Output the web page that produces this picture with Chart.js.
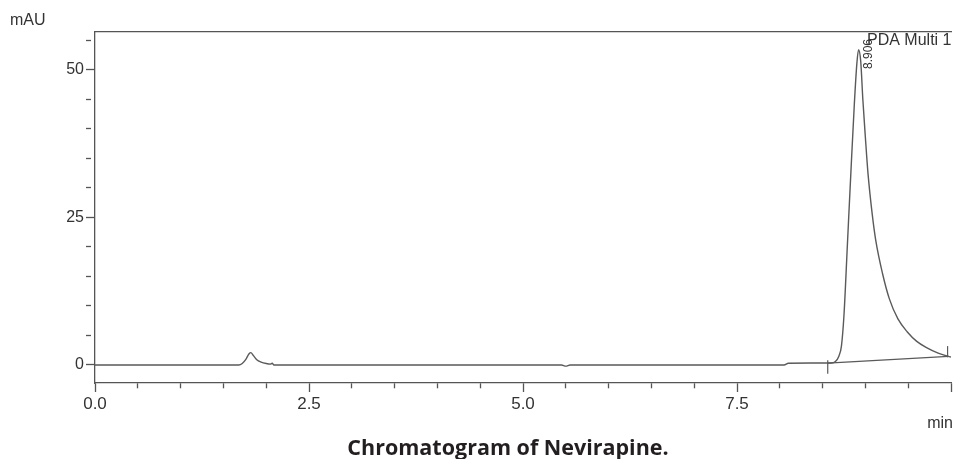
<!DOCTYPE html>
<html>
<head>
<meta charset="utf-8">
<script src="https://cdn.jsdelivr.net/npm/chart.js@4.4.1/dist/chart.umd.min.js"></script>
<style>
  html, body { margin: 0; padding: 0; background: #fff; }
  #wrap { position: relative; width: 953px; height: 459px; overflow: hidden; }
  #chart { position: absolute; left: 0; top: 0; }
  #caption {
    position: absolute; top: 436px; left: 508px; transform: translateX(-50%);
    white-space: nowrap; font: 700 21.5px "Open Sans", sans-serif; color: #231f20; line-height: 1;
  }
</style>
</head>
<body>
<div id="wrap">
  <canvas id="chart" width="953" height="459"></canvas>
  <div id="caption">Chromatogram of Nevirapine.</div>
</div>
<script>
// signal (min, mAU)
var times = [0.00, 1.68, 1.72, 1.76, 1.80, 1.82, 1.85, 1.89, 1.94, 2.00, 2.05, 2.07, 2.09,
  5.45, 5.50, 5.55, 8.05, 8.10, 8.60, 8.65, 8.69, 8.72, 8.75, 8.79, 8.83, 8.87, 8.90, 8.92,
  8.945, 8.97, 9.00, 9.03, 9.08, 9.12, 9.20, 9.28, 9.38, 9.49, 9.60, 9.72, 9.85, 9.97, 10.0];
var absorbance = [0, 0, 0.25, 0.9, 1.9, 2.1, 1.6, 0.9, 0.5, 0.25, 0.15, 0.3, 0,
  0, -0.2, 0, 0, 0.3, 0.35, 0.6, 1.5, 3.2, 8.5, 20.5, 32.5, 44, 51, 53.4,
  51.5, 45, 38.5, 32.5, 25.5, 21.2, 15.5, 11.2, 7.8, 5.6, 4.0, 2.9, 2.0, 1.45, 1.35];

// integration baseline and its start / end marks
var baselineTimes = [8.56, 9.97];
var baselineValues = [0.3, 1.45];
var startMarkTimes = [8.56, 8.56];
var startMarkValues = [0.8, -1.5];
var endMarkTimes = [9.96, 9.96];
var endMarkValues = [1.3, 3.2];

var xMajorLabels = ['0.0', '2.5', '5.0', '7.5'];
var yMajorLabels = ['0', '25', '50'];
var peakLabel = '8.906';
var peakTime = 8.92;
var detectorName = 'PDA Multi 1';

function pts(xs, ys) {
  return xs.map(function(x, i) { return {x: x, y: ys[i]}; });
}
function majorIndex(v, step) {
  var k = v / step;
  return Math.abs(k - Math.round(k)) < 1e-6 ? Math.round(k) : -1;
}

var axisColor = '#555';
var textColor = '#333';
var fontFamily = '"Liberation Sans", Arial, sans-serif';

var annotations = {
  id: 'annotations',
  afterDraw: function(chart) {
    var ctx = chart.ctx;
    var xs = chart.scales.x;
    var top = chart.chartArea.top;
    ctx.save();
    ctx.fillStyle = textColor;
    ctx.font = '16px ' + fontFamily;
    ctx.textBaseline = 'middle';
    ctx.textAlign = 'left';
    ctx.fillText('mAU', 10, 21);
    ctx.fillText(detectorName, 867, 41);
    ctx.textAlign = 'right';
    ctx.fillText('min', 953, 424);
    // retention time, rotated
    ctx.translate(xs.getPixelForValue(peakTime) + 10, top + 37);
    ctx.rotate(-Math.PI / 2);
    ctx.font = '12px ' + fontFamily;
    ctx.textAlign = 'left';
    ctx.fillText(peakLabel, 0, 0);
    ctx.restore();
  }
};

var lineStyle = {showLine: true, pointRadius: 0, borderColor: '#5a5a5a', borderWidth: 1.4, fill: false};

new Chart(document.getElementById('chart').getContext('2d'), {
  type: 'scatter',
  data: {
    datasets: [
      Object.assign({data: pts(times, absorbance), cubicInterpolationMode: 'monotone'}, lineStyle),
      Object.assign({data: pts(baselineTimes, baselineValues)}, lineStyle, {borderWidth: 1.2}),
      Object.assign({data: pts(startMarkTimes, startMarkValues)}, lineStyle, {borderWidth: 1.2}),
      Object.assign({data: pts(endMarkTimes, endMarkValues)}, lineStyle, {borderWidth: 1.2})
    ]
  },
  options: {
    responsive: false,
    animation: false,
    layout: {padding: {top: 32, left: 0, right: 0, bottom: 0}},
    plugins: {legend: {display: false}, tooltip: {enabled: false}},
    scales: {
      x: {
        type: 'linear', position: 'bottom', min: 0, max: 10,
        afterFit: function(s) { s.height = 76; },
        ticks: {
          stepSize: 0.5, autoSkip: false, maxRotation: 0, padding: 2,
          color: textColor, font: {family: fontFamily, size: 17},
          callback: function(v) {
            var k = majorIndex(v, 2.5);
            return k >= 0 && xMajorLabels[k] ? xMajorLabels[k] : '';
          }
        },
        grid: {
          drawOnChartArea: false, tickLength: 9, tickColor: axisColor, tickWidth: 1.3,
          tickBorderDash: function(c) {
            return c.tick && majorIndex(c.tick.value, 2.5) >= 0 ? [] : [5, 30];
          }
        },
        border: {display: true, color: axisColor, width: 1.3}
      },
      x2: {
        type: 'linear', position: 'top', min: 0, max: 10,
        afterFit: function(s) { s.height = 0; },
        ticks: {display: false},
        grid: {display: false, drawTicks: false},
        border: {display: true, color: axisColor, width: 1.3}
      },
      y: {
        type: 'linear', min: -3.05, max: 56.4,
        afterFit: function(s) { s.width = 95; },
        ticks: {
          stepSize: 5, includeBounds: false, autoSkip: false, padding: 2,
          color: textColor, font: {family: fontFamily, size: 16},
          callback: function(v) {
            var k = majorIndex(v, 25);
            return k >= 0 && yMajorLabels[k] ? yMajorLabels[k] : '';
          }
        },
        grid: {
          drawOnChartArea: false, tickLength: 9, tickColor: axisColor, tickWidth: 1.3,
          tickBorderDash: function(c) {
            return c.tick && majorIndex(c.tick.value, 25) >= 0 ? [] : [5, 30];
          }
        },
        border: {display: true, color: axisColor, width: 1.3}
      }
    }
  },
  plugins: [annotations]
});
</script>
</body>
</html>
